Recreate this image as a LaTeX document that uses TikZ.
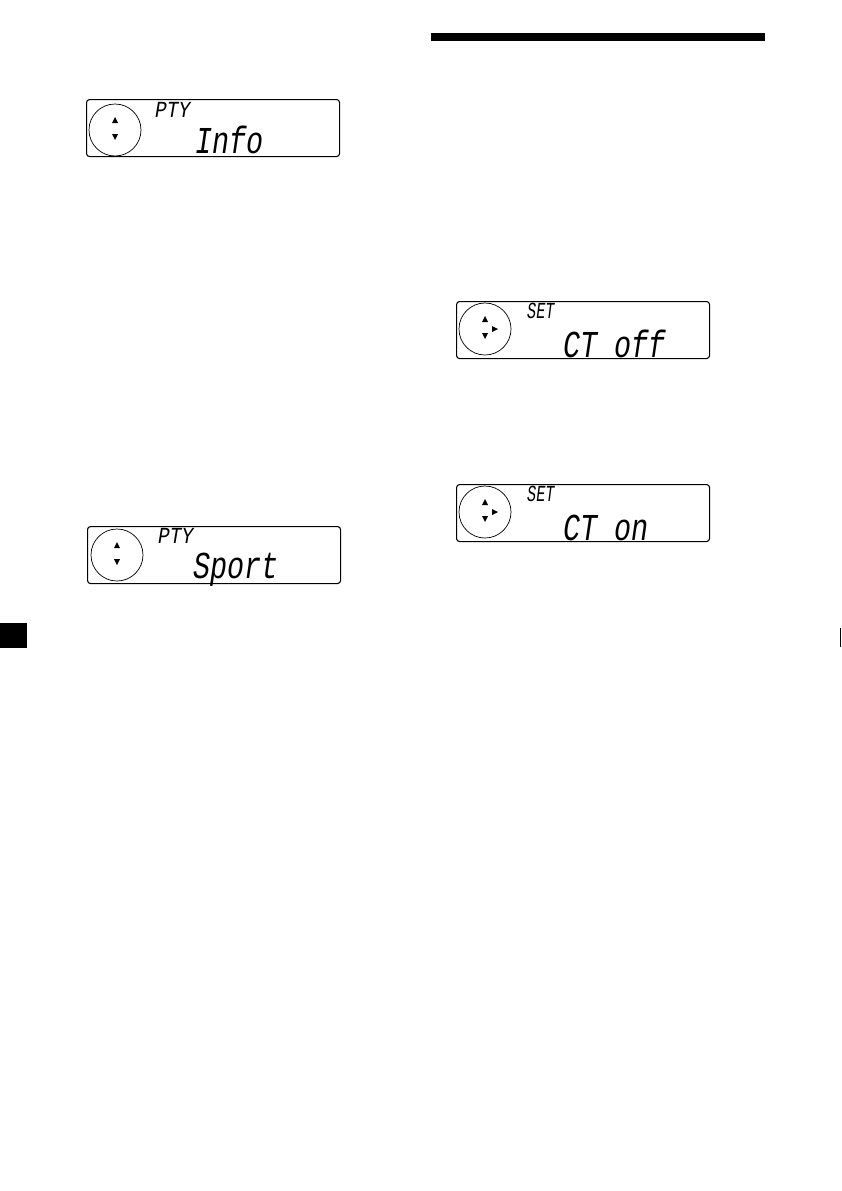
\documentclass[tikz,border=0pt]{standalone}
\usepackage{fontspec}
\newfontfamily\lcdfont{Liberation Mono}[FakeStretch=0.75]
\newfontfamily\lcdwide{Liberation Mono}[FakeStretch=0.85]
\newfontfamily\lcdnarrow{Liberation Mono}[FakeStretch=0.66]
\usetikzlibrary{calc}
\tikzset{
  lcdbox/.style={draw, line width=1.1pt, rounded corners=3pt, minimum width=253pt, minimum height=57pt, anchor=north west, inner sep=0pt},
  dial/.style={circle, draw, line width=0.7pt, minimum size=52pt, inner sep=0pt},
  bigtxt/.style={anchor=base west, inner sep=0pt, font=\lcdfont\itshape\fontsize{38}{38}\selectfont},
  ptytxt/.style={anchor=base west, inner sep=0pt, font=\lcdwide\itshape\fontsize{23}{23}\selectfont},
  settxt/.style={anchor=base west, inner sep=0pt, font=\lcdnarrow\itshape\fontsize{23}{23}\selectfont},
  blk/.style={fill=black, draw=none}
}
\newcommand{\uptri}[1]{\fill ($(#1)+(-3,-7)$) -- ++(6,0) -- ++(-3,-6) -- cycle;}
\newcommand{\dntri}[1]{\fill ($(#1)+(-3,4)$) -- ++(6,0) -- ++(-3,6) -- cycle;}
\newcommand{\rttri}[1]{\fill ($(#1)+(7,-3)$) -- ++(0,6) -- ++(6,-3) -- cycle;}
\begin{document}
\begin{tikzpicture}[x=1pt,y=-1pt]
\useasboundingbox (0,0) rectangle (841,1191);
% top bar, side marks
\fill[blk] (431,33) rectangle (765,41);
\fill[blk] (0,623) rectangle (27,648);
\draw[line width=1.2pt] (840.2,628) -- (840.2,647);
% display 1
\node[lcdbox] (d1) at (86,99) {};
\node[dial] (c1) at (115,130) {};
\uptri{c1}\dntri{c1}
\node[ptytxt] (t1a) at (155,117) {PTY};
\node[bigtxt] (t1b) at (195,153) {Info};
% display 2
\node[lcdbox] (d2) at (87,526) {};
\node[dial] (c2) at (117,555) {};
\uptri{c2}\dntri{c2}
\node[ptytxt] (t2a) at (158,543) {PTY};
\node[bigtxt] (t2b) at (193,578) {Sport};
% display 3
\node[lcdbox] (d3) at (456,301) {};
\node[dial] (c3) at (485,329) {};
\uptri{c3}\dntri{c3}\rttri{c3}
\node[settxt] (t3a) at (527,318) {SET};
\node[bigtxt] (t3b) at (563,357) {CT off};
% display 4
\node[lcdbox] (d4) at (456,484) {};
\node[dial] (c4) at (485,512) {};
\uptri{c4}\dntri{c4}\rttri{c4}
\node[settxt] (t4a) at (527,501) {SET};
\node[bigtxt] (t4b) at (563,540) {CT on};
\end{tikzpicture}
\end{document}
